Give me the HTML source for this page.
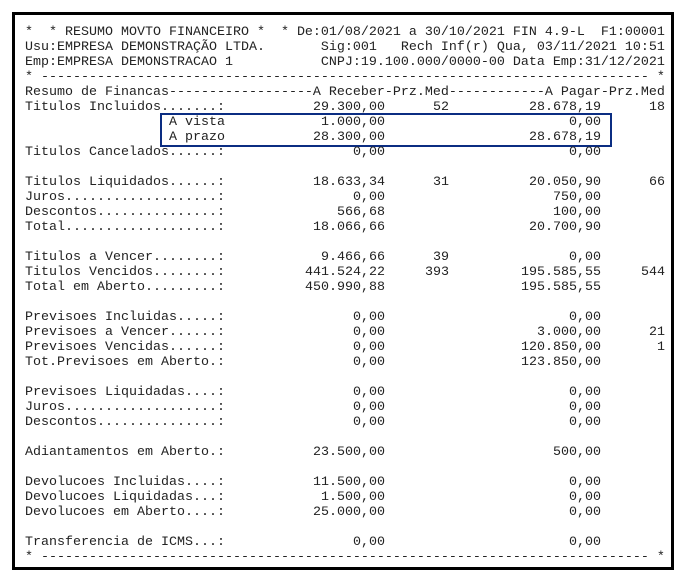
<!DOCTYPE html>
<html><head><meta charset="utf-8"><style>
html,body{margin:0;padding:0;background:#fff;}
body{width:686px;height:578px;position:relative;overflow:hidden;font-family:"Liberation Mono",monospace;font-size:13.33px;color:#222;}
.frame{position:absolute;left:12px;top:12px;width:656px;height:552px;border:3px solid #000;}
.r{position:absolute;left:25px;height:15px;line-height:15px;white-space:pre;}
.v{position:absolute;top:0;left:0;text-align:right;white-space:pre;}
.a{width:360px}.b{width:424px}.c{width:576px}.d{width:640px}
.box{position:absolute;left:160px;top:113px;width:448px;height:30px;border:2px solid #0b2d82;}
</style></head><body>
<div class="frame"></div>
<div class="box"></div>
<div class="r" style="top:25px">*  * RESUMO MOVTO FINANCEIRO *  * De:01/08/2021 a 30/10/2021 FIN 4.9-L  F1:00001</div>
<div class="r" style="top:40px">Usu:EMPRESA DEMONSTRAÇÃO LTDA.       Sig:001   Rech Inf(r) Qua, 03/11/2021 10:51</div>
<div class="r" style="top:55px">Emp:EMPRESA DEMONSTRACAO 1           CNPJ:19.100.000/0000-00 Data Emp:31/12/2021</div>
<div class="r" style="top:70px">* ---------------------------------------------------------------------------- *</div>
<div class="r" style="top:85px">Resumo de Financas------------------A Receber-Prz.Med------------A Pagar-Prz.Med</div>
<div class="r" style="top:100px">Titulos Incluidos.......:<span class="v a">29.300,00</span><span class="v b">52</span><span class="v c">28.678,19</span><span class="v d">18</span></div>
<div class="r" style="top:115px">                  A vista<span class="v a">1.000,00</span><span class="v c">0,00</span></div>
<div class="r" style="top:130px">                  A prazo<span class="v a">28.300,00</span><span class="v c">28.678,19</span></div>
<div class="r" style="top:145px">Titulos Cancelados......:<span class="v a">0,00</span><span class="v c">0,00</span></div>
<div class="r" style="top:175px">Titulos Liquidados......:<span class="v a">18.633,34</span><span class="v b">31</span><span class="v c">20.050,90</span><span class="v d">66</span></div>
<div class="r" style="top:190px">Juros...................:<span class="v a">0,00</span><span class="v c">750,00</span></div>
<div class="r" style="top:205px">Descontos...............:<span class="v a">566,68</span><span class="v c">100,00</span></div>
<div class="r" style="top:220px">Total...................:<span class="v a">18.066,66</span><span class="v c">20.700,90</span></div>
<div class="r" style="top:250px">Titulos a Vencer........:<span class="v a">9.466,66</span><span class="v b">39</span><span class="v c">0,00</span></div>
<div class="r" style="top:265px">Titulos Vencidos........:<span class="v a">441.524,22</span><span class="v b">393</span><span class="v c">195.585,55</span><span class="v d">544</span></div>
<div class="r" style="top:280px">Total em Aberto.........:<span class="v a">450.990,88</span><span class="v c">195.585,55</span></div>
<div class="r" style="top:310px">Previsoes Incluidas.....:<span class="v a">0,00</span><span class="v c">0,00</span></div>
<div class="r" style="top:325px">Previsoes a Vencer......:<span class="v a">0,00</span><span class="v c">3.000,00</span><span class="v d">21</span></div>
<div class="r" style="top:340px">Previsoes Vencidas......:<span class="v a">0,00</span><span class="v c">120.850,00</span><span class="v d">1</span></div>
<div class="r" style="top:355px">Tot.Previsoes em Aberto.:<span class="v a">0,00</span><span class="v c">123.850,00</span></div>
<div class="r" style="top:385px">Previsoes Liquidadas....:<span class="v a">0,00</span><span class="v c">0,00</span></div>
<div class="r" style="top:400px">Juros...................:<span class="v a">0,00</span><span class="v c">0,00</span></div>
<div class="r" style="top:415px">Descontos...............:<span class="v a">0,00</span><span class="v c">0,00</span></div>
<div class="r" style="top:445px">Adiantamentos em Aberto.:<span class="v a">23.500,00</span><span class="v c">500,00</span></div>
<div class="r" style="top:475px">Devolucoes Incluidas....:<span class="v a">11.500,00</span><span class="v c">0,00</span></div>
<div class="r" style="top:490px">Devolucoes Liquidadas...:<span class="v a">1.500,00</span><span class="v c">0,00</span></div>
<div class="r" style="top:505px">Devolucoes em Aberto....:<span class="v a">25.000,00</span><span class="v c">0,00</span></div>
<div class="r" style="top:535px">Transferencia de ICMS...:<span class="v a">0,00</span><span class="v c">0,00</span></div>
<div class="r" style="top:550px">* ---------------------------------------------------------------------------- *</div>
</body></html>
